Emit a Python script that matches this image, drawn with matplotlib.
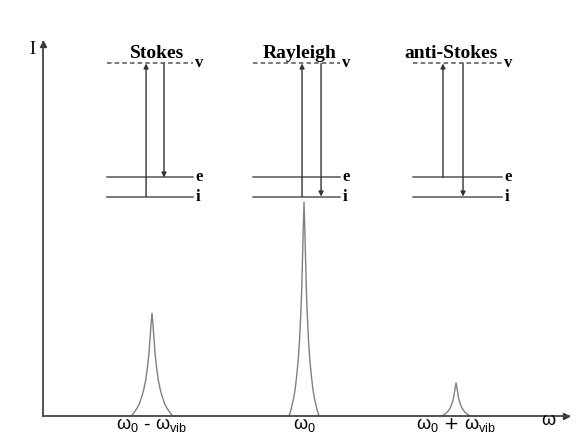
import numpy as np
import matplotlib.pyplot as plt

plt.rcParams['mathtext.fontset'] = 'custom'
plt.rcParams['mathtext.rm'] = 'Liberation Sans'
plt.rcParams['mathtext.it'] = 'Liberation Sans'

# spectrum: peak positions in units of the vibrational shift, heights relative to Rayleigh
peak_pos = [-1.0, 0.0, 1.0]
peak_height = [0.48, 1.0, 0.155]
peak_halfbase = [0.138, 0.099, 0.095]
peak_labels = [r'$\omega_0$ - $\omega_{vib}$', r'$\omega_0$', r'$\omega_0$ + $\omega_{vib}$']

# line profile, from the centre out to the base
profile_u = [0, 0.05, 0.1, 0.15, 0.2, 0.3, 0.4, 0.5, 0.6, 0.7, 0.8, 0.9, 1.0]
profile_h = [1.0, 0.88, 0.74, 0.6, 0.5, 0.35, 0.25, 0.18, 0.12, 0.08, 0.05, 0.02, 0.0]

# energy level diagrams (energies in units of the vibrational quantum)
level_names = ['i', 'e', 'v']
level_energy = [0, 1, 7]
diagram_titles = ['Stokes', 'Rayleigh', 'anti-Stokes']
title_x = [-0.967, -0.026, 0.968]
diagram_left = [-1.296, -0.336, 0.717]
diagram_right = [-0.730, 0.237, 1.303]
up_x = [-1.039, -0.013, 0.914]
down_x = [-0.921, 0.112, 1.046]
up_from = ['i', 'i', 'e']
down_to = ['e', 'i', 'i']

energy = dict(zip(level_names, level_energy))
serif = 'Liberation Serif'

fig = plt.figure(figsize=(5.84, 4.40), dpi=100)
ax = fig.add_axes([43 / 584, 24 / 440, 526 / 584, 374 / 440])
ax.set_xlim(-1.717, 1.743)
ax.set_ylim(0, 1.748)

# peaks
u = np.array(profile_u)
h = np.array(profile_h)
for pos, height, hb in zip(peak_pos, peak_height, peak_halfbase):
    x = np.concatenate([-u[::-1], u]) * hb + pos
    y = np.concatenate([h[::-1], h]) * height
    ax.plot(x, y, color='#808080', lw=1.0)

# axes with arrow heads
for side in ['top', 'right']:
    ax.spines[side].set_visible(False)
for side in ['left', 'bottom']:
    ax.spines[side].set_color('#444444')
    ax.spines[side].set_linewidth(1.3)
ax.plot(0.995, 0, '>', transform=ax.transAxes, clip_on=False, color='#333333', ms=5)
ax.plot(0, 0.995, '^', transform=ax.transAxes, clip_on=False, color='#333333', ms=5)
ax.set_yticks([])
ax.set_xticks(peak_pos, peak_labels)
ax.tick_params(axis='x', length=0, pad=0, labelsize=13)

fig.text(32 / 584, 1 - 50 / 440, 'I', family=serif, fontsize=13, ha='center', va='center')
fig.text(548 / 584, 1 - 420 / 440, 'ω', family='Liberation Sans', fontsize=13,
         ha='center', va='center')

# energy level diagrams on a twin y axis
ax2 = ax.twinx()
ax2.set_ylim(-11.55, 8.13)
ax2.axis('off')

for k in range(3):
    left, right = diagram_left[k], diagram_right[k]
    for name in level_names:
        E = energy[name]
        ls = (0, (3, 2)) if name == 'v' else '-'
        ax2.plot([left, right], [E, E], color='#555555', lw=1.1, linestyle=ls)
        ax2.annotate(name, (right, E), xytext=(1.5, 0), textcoords='offset points',
                     va='center', ha='left', family=serif, fontweight='bold', fontsize=12)
    ax2.annotate('', xy=(up_x[k], energy['v']), xytext=(up_x[k], energy[up_from[k]]),
                 arrowprops=dict(arrowstyle='-|>', color='#333333', lw=1.0,
                                 shrinkA=0, shrinkB=0, mutation_scale=7))
    ax2.annotate('', xy=(down_x[k], energy[down_to[k]]), xytext=(down_x[k], energy['v']),
                 arrowprops=dict(arrowstyle='-|>', color='#333333', lw=1.0,
                                 shrinkA=0, shrinkB=0, mutation_scale=7))
    ax2.text(title_x[k], 7.5, diagram_titles[k], ha='center', va='center',
             family=serif, fontweight='bold', fontsize=14)

fig.savefig('out.png', dpi=100)
